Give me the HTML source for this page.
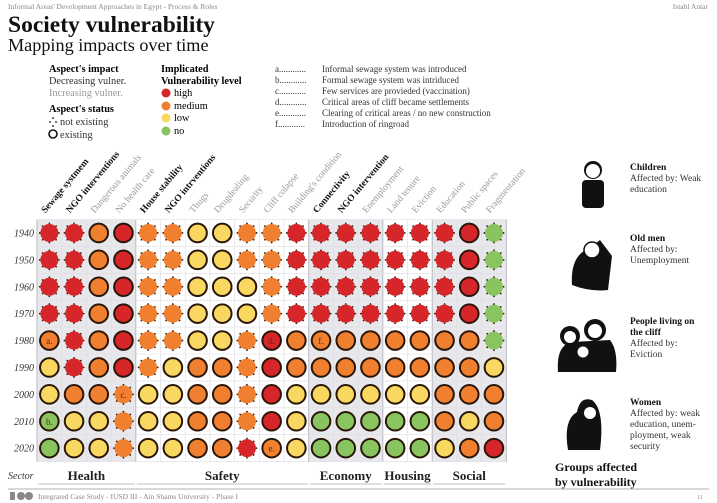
<!DOCTYPE html>
<html><head><meta charset="utf-8"><style>
body{margin:0;background:#fff}
svg{display:block;font-family:"Liberation Serif",serif}
</style></head><body>
<svg id="chart" width="717" height="503" viewBox="0 0 717 503" xmlns="http://www.w3.org/2000/svg">
<text x="8" y="9" font-size="7.5" fill="#888">Informal Areas' Development Approaches in Egypt - Process &amp; Roles</text>
<text x="708" y="9" font-size="7.5" fill="#888" text-anchor="end">Istabl Antar</text>
<text x="8" y="32" font-size="23.5" font-weight="bold" fill="#111">Society vulnerability</text>
<text x="8" y="51" font-size="18.2" fill="#111">Mapping impacts over time</text>

<g font-size="10.3">
<text x="49" y="72" font-weight="bold">Aspect's impact</text>
<text x="49" y="84" fill="#333">Decreasing vulner.</text>
<text x="49" y="96" fill="#999">Increasing vulner.</text>
<text x="49" y="112" font-weight="bold">Aspect's status</text>
<text x="60" y="125" fill="#333">not existing</text>
<text x="60" y="138" fill="#333">existing</text>
<circle cx="53" cy="134" r="4" fill="none" stroke="#111" stroke-width="1.6"/>
<circle cx="50" cy="122" r="0.9" fill="#111"/><circle cx="53" cy="118" r="0.9" fill="#111"/><circle cx="56" cy="122" r="0.9" fill="#111"/><circle cx="53" cy="126" r="0.9" fill="#111"/>
</g>
<g font-size="10.3">
<text x="161" y="72" font-weight="bold">Implicated</text>
<text x="161" y="84" font-weight="bold">Vulnerability level</text>
<circle cx="166" cy="93" r="4.5" fill="#d7262a"/><text x="174" y="96">high</text>
<circle cx="166" cy="106" r="4.5" fill="#f08030"/><text x="174" y="109">medium</text>
<circle cx="166" cy="118" r="4.5" fill="#f8d860"/><text x="174" y="121">low</text>
<circle cx="166" cy="131" r="4.5" fill="#88c460"/><text x="174" y="134">no</text>
</g>
<g font-size="9" fill="#333">
<text x="275" y="72">a............</text><text x="322" y="72">Informal sewage system was introduced</text>
<text x="275" y="83">b............</text><text x="322" y="83">Formal sewage system was intriduced</text>
<text x="275" y="94">c............</text><text x="322" y="94">Few services are provieded (vaccination)</text>
<text x="275" y="105">d............</text><text x="322" y="105">Critical areas of cliff became settlements</text>
<text x="275" y="116">e............</text><text x="322" y="116">Clearing of critical areas / no new construction</text>
<text x="275" y="127">f............</text><text x="322" y="127">Introduction of ringroad</text>
</g>

<g id="grid"></g>

<g>
<g fill="#111">
<circle cx="593" cy="170" r="9"/><rect x="582" y="180" width="22" height="28" rx="4"/>
<circle cx="593" cy="171" r="7" fill="#fff"/>
<path d="M572 285 Q570 255 590 248 L600 240 L612 256 L608 290 Q590 292 572 285Z"/>
<circle cx="592" cy="250" r="8" fill="#fff" stroke="#111" stroke-width="1.5"/>
<circle cx="570" cy="336" r="10"/><circle cx="595" cy="330" r="11"/>
<path d="M558 372 Q556 345 572 342 L610 340 Q618 350 616 372Z"/>
<circle cx="570" cy="337" r="6" fill="#fff"/><circle cx="595" cy="331" r="7" fill="#fff"/>
<circle cx="583" cy="352" r="6" fill="#fff" stroke="#111"/>
<path d="M568 450 Q563 420 577 412 Q580 396 592 400 Q605 410 600 450Z"/>
<circle cx="590" cy="413" r="6" fill="#fff"/>
</g>
<g font-size="9.5" fill="#333">
<text x="630" y="170" font-weight="bold" fill="#111">Children</text>
<text x="630" y="181">Affected by: Weak</text><text x="630" y="192">education</text>
<text x="630" y="241" font-weight="bold" fill="#111">Old men</text>
<text x="630" y="252">Affected by:</text><text x="630" y="263">Unemployment</text>
<text x="630" y="324" font-weight="bold" fill="#111">People living on</text>
<text x="630" y="335" font-weight="bold" fill="#111">the cliff</text>
<text x="630" y="346">Affected by:</text><text x="630" y="357">Eviction</text>
<text x="630" y="405" font-weight="bold" fill="#111">Women</text>
<text x="630" y="416">Affected by: weak</text><text x="630" y="427">education, unem-</text>
<text x="630" y="438">ployment, weak</text><text x="630" y="449">security</text>
</g>
<text x="555" y="471" font-size="12" font-weight="bold" fill="#111">Groups affected</text>
<text x="555" y="486" font-size="12" font-weight="bold" fill="#111">by vulnerability</text>
</g>

<line x1="8" y1="489" x2="709" y2="489" stroke="#999" stroke-width="0.8"/>
<g fill="#888">
<rect x="10" y="492" width="5" height="8"/><circle cx="21" cy="496" r="4"/><circle cx="29" cy="496" r="4"/>
</g>
<text x="38" y="499" font-size="7.5" fill="#888">Integrated Case Study - IUSD III - Ain Shams University - Phase I</text>
<text x="703" y="499" font-size="6" fill="#888" text-anchor="end">11</text>

<script>
const categories=["Sewage systmem","NGO interventions","Dangerous animals","No health care","House stability","NGO intrventions","Thugs","Drugdealing","Security","Cliff colapse","Building's condition","Connectivity","NGO intervention","Enemployment","Land tenure","Eviction","Education","Public spaces","Fragmentation"];
const decreasing=[1,1,0,0,1,1,0,0,0,0,0,1,1,0,0,0,0,0,0];
const years=["1940","1950","1960","1970","1980","1990","2000","2010","2020"];
// uppercase = existing, lowercase = not existing; H high, M medium, L low, N no
const row1940=["h","h","M","H","m","m","L","L","m","m","h","h","h","h","h","h","h","H","n"];
const row1950=["h","h","M","H","m","m","L","L","m","m","h","h","h","h","h","h","h","H","n"];
const row1960=["h","h","M","H","m","m","L","L","L","m","h","h","h","h","h","h","h","H","n"];
const row1970=["h","h","M","H","m","m","L","L","L","m","h","h","h","h","h","h","h","H","n"];
const row1980=["M","h","M","H","m","m","L","L","m","H","M","M","M","M","M","M","M","M","n"];
const row1990=["L","h","M","H","m","L","M","M","m","H","M","M","M","M","M","M","M","M","L"];
const row2000=["L","M","M","m","L","L","M","M","m","H","L","L","L","L","L","L","M","M","M"];
const row2010=["N","L","L","m","L","L","M","M","m","H","L","N","N","N","N","N","M","L","M"];
const row2020=["N","L","L","m","L","L","M","M","h","M","L","N","N","N","N","N","L","M","H"];
const rows=[row1940,row1950,row1960,row1970,row1980,row1990,row2000,row2010,row2020];
const events=[["a",4,0],["d",4,9],["f",4,11],["c",6,3],["b",7,0],["e",8,9]];
const sectors=["Health","Safety","Economy","Housing","Social"];
const sectorStart=[0,4,11,14,16];
const sectorEnd=[4,11,14,16,19];

const NS="http://www.w3.org/2000/svg";
const g=document.getElementById('grid');
const x0=37,cw=24.7,y0=219.5,rh=26.9;
const xc=i=>x0+cw*(i+0.5);
const yc=j=>y0+rh*(j+0.5);
const colors={h:"#d7262a",m:"#f08030",l:"#f8d860",n:"#88c460"};
function mk(t,a){const e=document.createElementNS(NS,t);for(const k in a)e.setAttribute(k,a[k]);g.appendChild(e);return e;}
sectors.forEach((s,k)=>{
  const r=mk('rect',{x:x0+cw*sectorStart[k],y:y0,width:cw*(sectorEnd[k]-sectorStart[k]),height:rh*years.length,fill:(k%2==0)?"#e8e8ec":"#fff"});
  
  
  const xm=x0+cw*(sectorStart[k]+sectorEnd[k])/2;
  const t=mk('text',{x:xm,y:480,'font-size':13,'font-weight':'bold','text-anchor':'middle',fill:'#222'});
  t.textContent=s;
  
  
  mk('line',{x1:x0+cw*sectorStart[k]+1,y1:484,x2:x0+cw*sectorEnd[k]-1,y2:484,stroke:'#aaa','stroke-width':0.8});
});
for(let i=0;i<=categories.length;i++){
  const div=sectorStart.includes(i)||i==categories.length;
  mk('line',{x1:x0+cw*i,y1:y0,x2:x0+cw*i,y2:y0+rh*years.length,stroke:div?'#b8b8c0':'#dcdce2','stroke-width':div?1:0.6});
}
for(let j=0;j<=years.length;j++) mk('line',{x1:x0,y1:y0+rh*j,x2:x0+cw*categories.length,y2:y0+rh*j,stroke:'#dcdce2','stroke-width':0.6});
const st=mk('text',{x:8,y:479,'font-size':10,'font-style':'italic',fill:'#333'});st.textContent='Sector';


years.forEach((y,j)=>{
  const t=mk('text',{x:34,y:yc(j)+3.5,'font-size':10,'font-style':'italic','text-anchor':'end',fill:'#333'});
  t.textContent=y;
  
  
});
categories.forEach((c,i)=>{
  const t=mk('text',{x:0,y:0,'font-size':9.5,'font-weight':decreasing[i]?'bold':'normal',fill:decreasing[i]?'#111':'#999',transform:`translate(${xc(i)-4},${y0-6}) rotate(-50)`});
  t.textContent=c;
  
  
});
rows.forEach((row,j)=>{
  row.forEach((v,i)=>{
    const lv=v.toLowerCase(),exist=v!==lv;
    const cx=xc(i),cy=yc(j);
    let c;
    if(exist){
      c=mk('circle',{cx,cy,r:9.3,fill:colors[lv],stroke:'#2a1608','stroke-width':2});
    }else{
      c=mk('circle',{cx,cy,r:9,fill:colors[lv]});
      for(let k=0;k<8;k++){const a=k*Math.PI/4;mk('circle',{cx:cx+9.6*Math.cos(a),cy:cy+9.6*Math.sin(a),r:0.9,fill:'#3a2010'});}
    }
    
    
  });
});
events.forEach(([l,j,i])=>{
  const t=mk('text',{x:xc(i),y:yc(j)+3.5,'font-size':9,'text-anchor':'middle',fill:'#5a2a10'});
  t.textContent=l+'.';
  
  
});
</script>
</svg>
</body></html>
